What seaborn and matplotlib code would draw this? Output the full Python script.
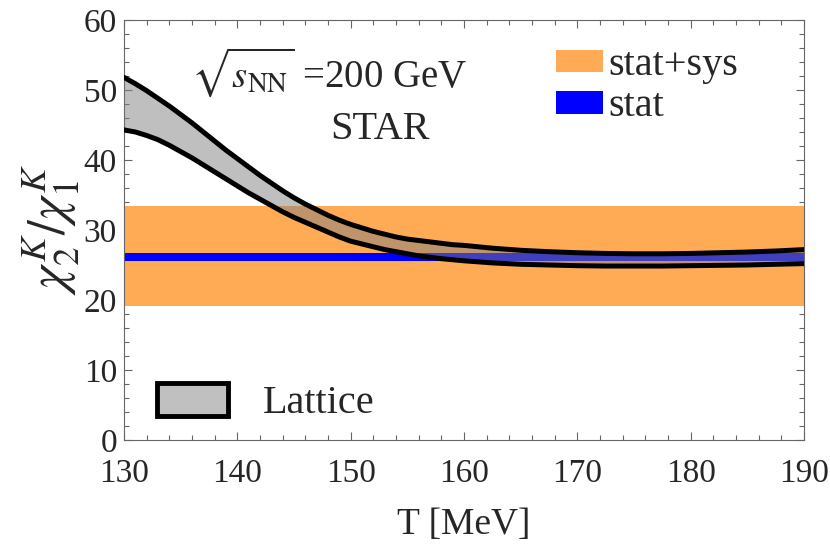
import matplotlib
matplotlib.use("Agg")
import matplotlib.pyplot as plt
import seaborn as sns
from matplotlib.patches import Patch
from matplotlib.ticker import MultipleLocator

# ---- data ----
T = [130, 131, 132, 133, 134, 135, 136, 137, 138, 139, 140, 141, 142, 143, 144,
     145, 146, 147, 148, 149, 150, 151, 152, 153, 154, 155, 156, 157, 158, 159,
     160, 162.5, 165, 167.5, 170, 172.5, 175, 177.5, 180, 182.5, 185, 187.5, 190]
lattice_upper = [51.8, 50.9, 49.9, 48.8, 47.7, 46.5, 45.3, 44.0, 42.7, 41.4, 40.2,
                 39.0, 37.8, 36.7, 35.6, 34.6, 33.7, 32.9, 32.1, 31.4, 30.8, 30.3,
                 29.8, 29.4, 29.0, 28.7, 28.5, 28.3, 28.1, 27.9, 27.8, 27.4, 27.1,
                 26.9, 26.75, 26.65, 26.6, 26.6, 26.65, 26.75, 26.85, 27.0, 27.2]
lattice_lower = [44.3, 44.0, 43.5, 42.9, 42.1, 41.2, 40.3, 39.3, 38.3, 37.3, 36.3,
                 35.3, 34.4, 33.5, 32.6, 31.8, 31.1, 30.4, 29.7, 29.0, 28.4, 28.0,
                 27.6, 27.2, 26.9, 26.6, 26.3, 26.1, 25.9, 25.75, 25.6, 25.3, 25.1,
                 25.0, 24.9, 24.85, 24.85, 24.85, 24.9, 24.95, 25.0, 25.1, 25.2]
star_value = 26.15
stat_err = 0.55
sys_low, sys_high = 19.1, 33.4
x_range = [130, 190]
x_ticks = [130, 140, 150, 160, 170, 180, 190]
y_ticks = [0, 10, 20, 30, 40, 50, 60]

sns.set_theme(style="ticks")
plt.rcParams['font.family'] = ['Liberation Serif', 'DejaVu Serif']
plt.rcParams['mathtext.fontset'] = 'stix'

fig = plt.figure(figsize=(8.3, 5.45), dpi=100)
ax = fig.add_axes([0.1494, 0.1927, 0.8193, 0.7706])

# stat+sys band
ax.fill_between(x_range, [sys_low] * 2, [sys_high] * 2, color='#FFAA55', lw=0, zorder=1)
# stat band
ax.fill_between(x_range, [star_value - stat_err] * 2, [star_value + stat_err] * 2,
                color='#0000FF', lw=0, zorder=2)
# lattice band
ax.fill_between(T, lattice_lower, lattice_upper, color='#808080', alpha=0.5, lw=0, zorder=3)
sns.lineplot(x=T, y=lattice_upper, color='black', lw=3.6, ax=ax, zorder=4)
sns.lineplot(x=T, y=lattice_lower, color='black', lw=3.6, ax=ax, zorder=4)

ax.set_xlim(130, 190)
ax.set_ylim(0, 60)
ax.set_xticks(x_ticks)
ax.set_yticks(y_ticks)
ax.xaxis.set_minor_locator(MultipleLocator(2))
ax.yaxis.set_minor_locator(MultipleLocator(2))
ax.tick_params(which='both', direction='in', top=True, right=True, color='#666666',
               labelsize=24, width=0.8)
ax.tick_params(axis='x', which='major', pad=13)
ax.tick_params(axis='y', which='major', pad=5)
ax.tick_params(which='major', length=6)
ax.tick_params(which='minor', length=3.5)
for s in ax.spines.values():
    s.set_color('#666666')
    s.set_linewidth(0.8)

ax.set_xlabel('T [MeV]', fontsize=27, labelpad=14)
ax.set_ylabel(r'$\chi_2^K/\chi_1^K$', fontsize=38, labelpad=1)

ax.text(148.1, 52.6, r'$\sqrt{s_{\rm NN}}$ =200 GeV', fontsize=28, ha='center', va='center')
ax.text(152.6, 44.3, 'STAR', fontsize=29, ha='center', va='center')

leg1 = ax.legend(handles=[Patch(facecolor='#FFAA55', edgecolor='none', label='stat+sys'),
                          Patch(facecolor='#0000FF', edgecolor='none', label='stat')],
                 loc='upper left', bbox_to_anchor=(0.635, 0.935), frameon=False,
                 fontsize=29, handlelength=1.18, handleheight=0.5, handletextpad=0.12,
                 labelspacing=0.1, borderpad=0, borderaxespad=0)
ax.add_artist(leg1)
ax.legend(handles=[Patch(facecolor='#C0C0C0', edgecolor='black', lw=3.5, label='Lattice')],
          loc='lower left', bbox_to_anchor=(0.048, 0.042), frameon=False,
          fontsize=29, handlelength=1.78, handleheight=0.875, handletextpad=0.85,
          borderpad=0, borderaxespad=0)

fig.savefig('out.png', dpi=100)
